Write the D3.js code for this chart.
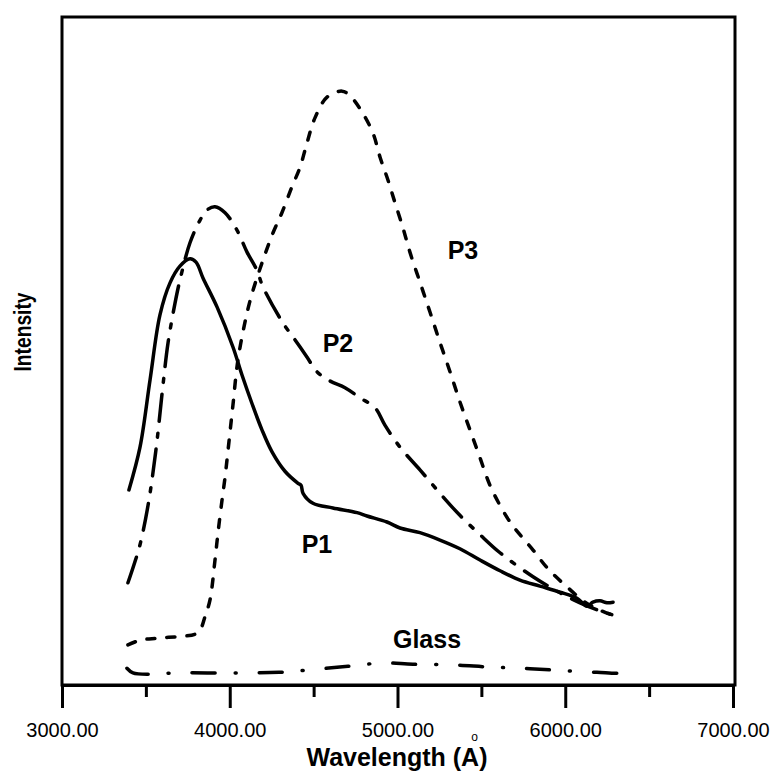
<!DOCTYPE html>
<html>
<head>
<meta charset="utf-8">
<script src="https://cdn.jsdelivr.net/npm/d3@7"></script>
<style>
  body { margin: 0; background: #fff; }
  text { font-family: "Liberation Sans", Arial, sans-serif; fill: #000; }
</style>
</head>
<body>
<script>
'use strict';

// x tick labels (wavelength, Å)
const majorTicks = [3000, 4000, 5000, 6000, 7000];
const minorTicks = [3500, 4500, 5500, 6500];

// P1 - solid
const p1Wave = [3399, 3465, 3525, 3584, 3644, 3703, 3763, 3799, 3841, 3924, 4019, 4073, 4133, 4192, 4252, 4329, 4407, 4425, 4437, 4496, 4615, 4759, 4818, 4937, 5015, 5134, 5253, 5372, 5492, 5611, 5730, 5849, 5969, 6070, 6130, 6165, 6207, 6249, 6285];
const p1Int  = [29.2, 35.6, 45.7, 55.4, 60.2, 62.7, 63.8, 63.3, 60.9, 56.6, 50.6, 46.4, 42.1, 38.2, 34.9, 32.0, 30.2, 29.9, 28.7, 27.2, 26.5, 25.8, 25.3, 24.4, 23.5, 22.8, 21.7, 20.4, 18.7, 17.1, 15.7, 14.8, 13.9, 13.0, 11.8, 12.4, 12.6, 12.3, 12.4];

// P2 - long dash / short dash
const p2Wave = [3393, 3429, 3465, 3513, 3560, 3602, 3632, 3674, 3703, 3763, 3823, 3864, 3912, 3972, 4043, 4103, 4162, 4198, 4317, 4377, 4460, 4520, 4598, 4687, 4776, 4866, 4925, 5015, 5134, 5253, 5372, 5492, 5611, 5808, 5969, 6088, 6207, 6308];
const p2Int  = [15.3, 18.0, 21.0, 26.9, 35.2, 44.9, 51.2, 57.2, 60.6, 66.2, 69.6, 71.1, 71.6, 70.7, 68.1, 64.8, 62.1, 59.6, 54.2, 52.1, 49.1, 46.9, 45.5, 44.5, 43.0, 41.5, 38.9, 35.6, 32.2, 28.7, 25.4, 22.5, 19.8, 16.2, 13.8, 12.3, 11.1, 10.3];

// P3 - short dashes
const p3Wave = [3393, 3465, 3566, 3715, 3793, 3823, 3852, 3882, 3912, 3930, 3954, 3972, 3990, 4019, 4049, 4103, 4139, 4198, 4258, 4311, 4371, 4419, 4460, 4508, 4580, 4669, 4717, 4788, 4854, 4896, 4943, 4985, 5033, 5074, 5134, 5194, 5253, 5313, 5372, 5432, 5492, 5551, 5611, 5671, 5730, 5808, 5897, 6010, 6118, 6207, 6308];
const p3Int  = [6.0, 6.7, 7.0, 7.3, 7.6, 8.2, 10.2, 12.7, 18.7, 22.8, 27.7, 31.1, 35.2, 41.9, 48.7, 55.7, 59.1, 63.6, 67.7, 70.7, 74.6, 77.5, 81.1, 84.9, 88.0, 88.9, 88.2, 85.8, 82.6, 79.0, 75.6, 72.2, 68.4, 64.8, 60.3, 55.8, 51.3, 46.9, 42.4, 38.2, 34.0, 29.9, 26.9, 24.4, 22.5, 20.2, 17.4, 14.7, 12.4, 11.2, 10.2];

// Glass - dash dot
const glassWave = [3387, 3423, 3525, 3662, 4001, 4294, 4526, 4705, 4914, 5092, 5343, 5539, 5742, 5951, 6189, 6338, 6410];
const glassInt  = [2.5, 1.8, 1.6, 1.8, 1.8, 1.9, 2.4, 2.8, 3.3, 3.1, 3.0, 2.7, 2.5, 2.2, 1.9, 1.8, 2.4];

// series labels
const seriesNames = ["P1", "P2", "P3", "Glass"];
const labelWave = [4520, 4645, 5390, 5176];
const labelInt  = [19.7, 49.9, 63.8, 5.5];

(function() {
  const width = 775, height = 773;
  const plotLeft = 62, plotRight = 733, plotTop = 17, plotBottom = 685;

  const svg = d3.select('body').append('svg')
    .attr('width', width)
    .attr('height', height);

  const x = d3.scaleLinear().domain([3000, 7000]).range([plotLeft, plotRight]);
  const y = d3.scaleLinear().domain([0, 100]).range([plotBottom, plotTop]);

  // frame
  svg.append('rect')
    .attr('x', plotLeft).attr('y', plotTop)
    .attr('width', 735 - plotLeft).attr('height', plotBottom - plotTop)
    .attr('fill', 'none').attr('stroke', '#000').attr('stroke-width', 3);

  // minor ticks
  svg.append('g')
    .attr('transform', `translate(0, ${plotBottom})`)
    .call(d3.axisBottom(x).tickValues(minorTicks).tickSize(12).tickFormat(''))
    .call(g => g.select('.domain').remove())
    .call(g => g.selectAll('line').attr('stroke-width', 3));

  // major ticks + labels
  const xAxis = svg.append('g')
    .attr('transform', `translate(0, ${plotBottom})`)
    .call(d3.axisBottom(x).tickValues(majorTicks).tickSize(23).tickSizeOuter(0)
      .tickPadding(15).tickFormat(d3.format('.2f')));
  xAxis.select('.domain').attr('stroke-width', 3);
  xAxis.selectAll('line').attr('stroke-width', 3);
  xAxis.selectAll('text').style('font-size', '20px').attr('fill', '#000')
    .style('font-family', '"Liberation Sans", Arial, sans-serif');

  // axis titles
  svg.append('text')
    .attr('x', 397).attr('y', 766)
    .attr('text-anchor', 'middle')
    .style('font-size', '25px').style('font-weight', 'bold')
    .text('Wavelength (A)');
  svg.append('text')
    .attr('x', 474.5).attr('y', 741)
    .attr('text-anchor', 'middle')
    .style('font-size', '12px')
    .text('o');
  svg.append('text')
    .attr('transform', 'translate(31, 332) rotate(-90)')
    .attr('text-anchor', 'middle')
    .attr('textLength', 79).attr('lengthAdjust', 'spacingAndGlyphs')
    .style('font-size', '24px').style('font-weight', 'bold')
    .text('Intensity');

  // curves
  const line = d3.line()
    .x(d => x(d[0]))
    .y(d => y(d[1]))
    .curve(d3.curveCatmullRom.alpha(0.5));

  function drawSeries(waves, ints, dash) {
    svg.append('path')
      .datum(d3.zip(waves, ints))
      .attr('d', line)
      .attr('fill', 'none')
      .attr('stroke', '#000')
      .attr('stroke-width', 3.5)
      .attr('stroke-linecap', 'round')
      .attr('stroke-linejoin', 'round')
      .attr('stroke-dasharray', dash);
  }

  drawSeries(p1Wave, p1Int, null);
  drawSeries(p2Wave, p2Int, '27,12,4,12');
  drawSeries(p3Wave, p3Int, '8,12');
  drawSeries(glassWave, glassInt, '23,20,1,23');

  // series labels
  svg.selectAll('.lbl')
    .data(seriesNames)
    .enter()
    .append('text')
      .attr('class', 'lbl')
      .attr('x', (d, i) => x(labelWave[i]))
      .attr('y', (d, i) => y(labelInt[i]))
      .attr('text-anchor', 'middle')
      .style('font-size', '25px').style('font-weight', 'bold')
      .text(d => d);
})();
</script>
</body>
</html>
